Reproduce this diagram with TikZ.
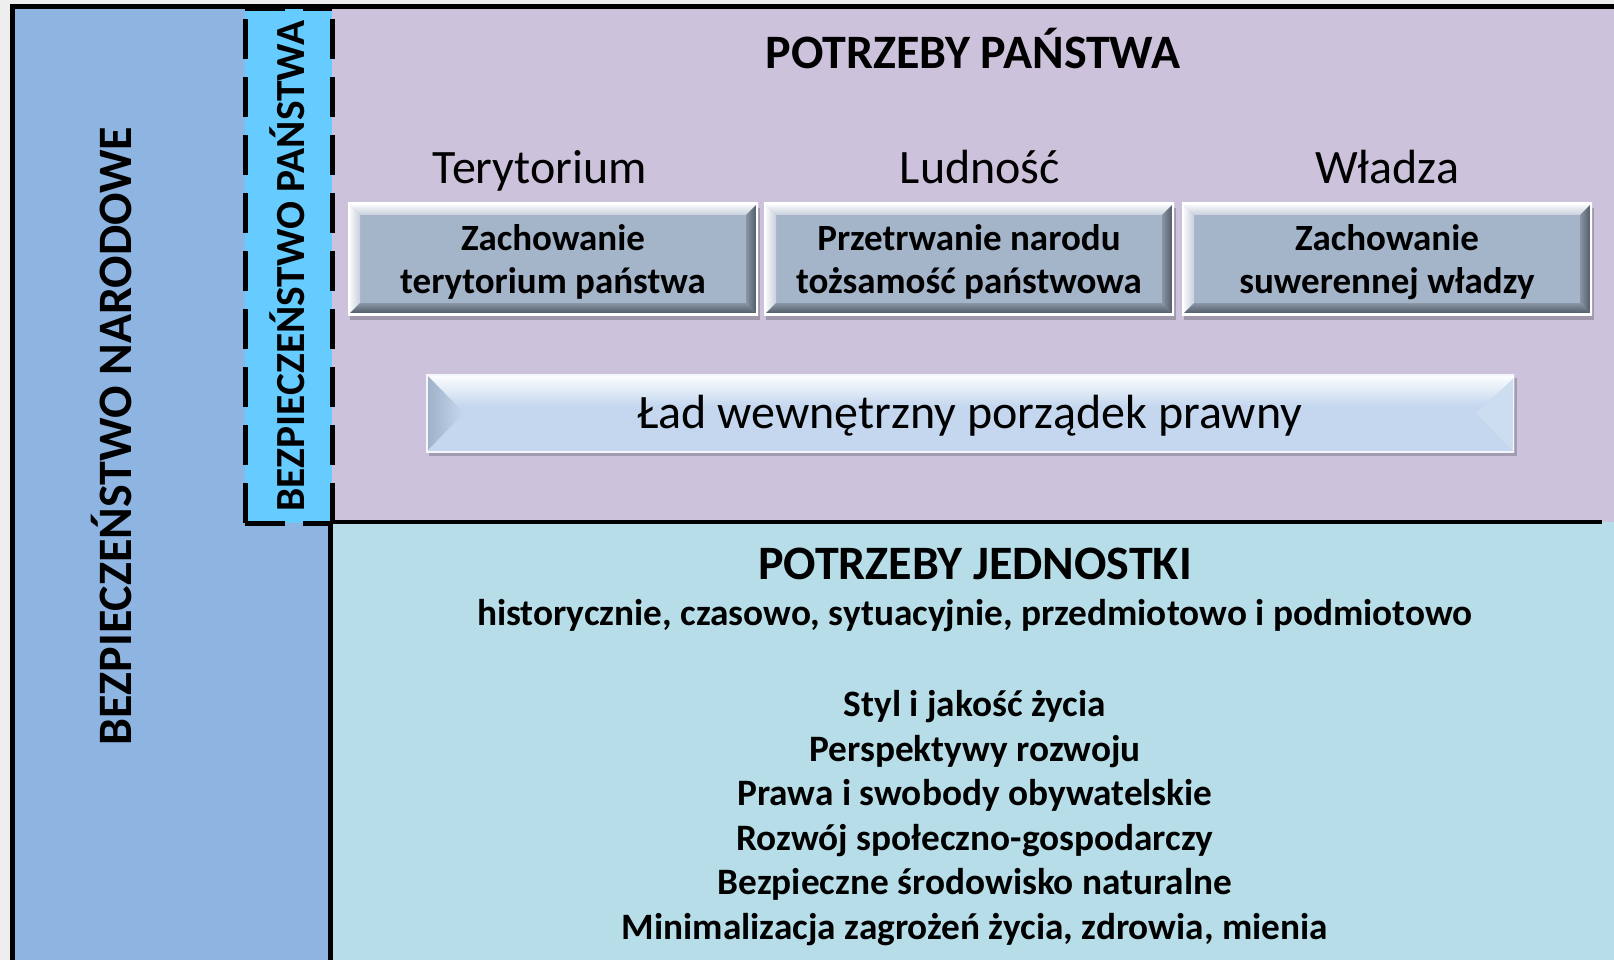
\documentclass[tikz,border=0pt]{standalone}
\usepackage{fontspec}
\setmainfont{Carlito}
\usetikzlibrary{calc,shadows}
\definecolor{bgc}{RGB}{238,238,238}
\definecolor{natblue}{RGB}{142,180,226}
\definecolor{stcyan}{RGB}{102,204,255}
\definecolor{purp}{RGB}{204,194,219}
\definecolor{ltblue}{RGB}{183,222,232}
\definecolor{face}{RGB}{164,180,201}
\definecolor{facelt}{RGB}{200,208,220}
\definecolor{facedk}{RGB}{72,82,94}
\definecolor{facemd}{RGB}{138,150,166}
\definecolor{ladface}{RGB}{196,215,238}
\definecolor{ladedge}{RGB}{158,176,198}
\tikzset{
  gbox/.style={minimum width=410pt, minimum height=112pt, inner sep=0pt, fill=face,
    drop shadow={shadow xshift=2pt, shadow yshift=-5pt, opacity=0.22, fill=black},
    path picture={
      \coordinate (pa) at (path picture bounding box.north west);
      \coordinate (pb) at (path picture bounding box.north east);
      \coordinate (pc) at (path picture bounding box.south east);
      \coordinate (pd) at (path picture bounding box.south west);
      \shade[top color=white, bottom color=facelt]
        (pa) -- (pb) -- ($(pb)+(-12pt,-12pt)$) -- ($(pa)+(12pt,-12pt)$) -- cycle;
      \shade[left color=white, right color=facelt]
        (pa) -- ($(pa)+(12pt,-12pt)$) -- ($(pd)+(12pt,12pt)$) -- (pd) -- cycle;
      \shade[left color=facemd, right color=facedk]
        (pb) -- (pc) -- ($(pc)+(-12pt,12pt)$) -- ($(pb)+(-12pt,-12pt)$) -- cycle;
      \shade[top color=facemd, bottom color=facedk]
        (pd) -- (pc) -- ($(pc)+(-12pt,12pt)$) -- ($(pd)+(12pt,12pt)$) -- cycle;
      \draw[white, line width=4pt] (pa) rectangle (pc);
    }},
  boxtext/.style={inner sep=0pt, align=center, font=\fontsize{37}{43.5}\selectfont\bfseries},
  ladbox/.style={minimum width=1088pt, minimum height=78pt, inner sep=0pt,
    text height=42pt, text depth=12pt,
    font=\fontsize{48}{56}\selectfont, fill=ladface,
    drop shadow={shadow xshift=3pt, shadow yshift=-4pt, opacity=0.2, fill=black},
    path picture={
      \coordinate (pa) at (path picture bounding box.north west);
      \coordinate (pb) at (path picture bounding box.north east);
      \coordinate (pc) at (path picture bounding box.south east);
      \coordinate (pd) at (path picture bounding box.south west);
      \shade[top color=white, bottom color=ladface]
        (pa) rectangle ($(pb)+(0,-32pt)$);
      \shade[left color=ladedge, right color=ladface]
        (pa) -- ($(pa)!0.5!(pd)+(38pt,0)$) -- (pd) -- cycle;
      \fill[ladface!85!white]
        ($(pb)+(0,-4pt)$) -- ($(pb)!0.5!(pc)+(-38pt,0)$) -- (pc) -- cycle;
      \draw[white!80!ladface, line width=3pt] (pa) rectangle (pc);
    }},
  heading/.style={font=\fontsize{48}{56}\selectfont\bfseries, inner sep=0pt},
  colhead/.style={font=\fontsize{48}{56}\selectfont, inner sep=0pt, anchor=base},
  vlabel/.style={rotate=90, inner sep=0pt},
  bodytext/.style={font=\fontsize{37.3}{44.6}\selectfont\bfseries, inner sep=0pt, align=center}
}
\begin{document}
\begin{tikzpicture}[x=1pt,y=-1pt]
\useasboundingbox (0,0) rectangle (1614,960);
\fill[bgc] (0,0) rectangle (1614,960);
% regions
\fill[natblue] (12,7) rectangle (330,960);
\fill[purp] (330,7) rectangle (1614,522);
\fill[ltblue] (330,522) rectangle (1614,960);
\fill[stcyan] (245,7) rectangle (332,523);
% frame lines
\draw[line width=5pt] (12,960) -- (12,7) -- (1614,7);
\draw[line width=5pt] (330,960) -- (330,522);
\draw[line width=4pt] (330,522) -- (1602,522);
\draw[line width=5pt, dash pattern=on 40pt off 18pt] (245,523) -- (245,7);
\draw[line width=5pt, dash pattern=on 40pt off 18pt] (332,523) -- (332,7);
\draw[line width=5pt, dash pattern=on 40pt off 18pt] (245,523) -- (332,523);
\draw[line width=5pt, dash pattern=on 40pt off 18pt] (245,9) -- (332,9);

% vertical labels
\node[vlabel, font=\fontsize{48}{56}\selectfont\bfseries] (narod) at (112,436) {BEZPIECZEŃSTWO NARODOWE};
\node[vlabel, font=\fontsize{41.4}{48}\selectfont\bfseries] (panst) at (287,266) {BEZPIECZEŃSTWO PAŃSTWA};

% top section
\node[heading] (pp) at (973,49) {POTRZEBY PAŃSTWA};
\node[colhead] (ter) at (540,184) {Terytorium};
\node[colhead] (lud) at (980,184) {Ludność};
\node[colhead] (wla) at (1387,184) {Władza};

\node[gbox] (b1) at (553,259) {};
\node[boxtext] (t1) at ([yshift=-3pt]b1.center) {Zachowanie\\terytorium państwa};
\node[gbox] (b2) at (969,259) {};
\node[boxtext] (t2) at ([yshift=-3pt]b2.center) {Przetrwanie narodu\\tożsamość państwowa};
\node[gbox] (b3) at (1387,259) {};
\node[boxtext] (t3) at ([yshift=-3pt]b3.center) {Zachowanie\\suwerennej władzy};

\node[ladbox] (lad) at (970,413) {Ład wewnętrzny porządek prawny};

% bottom section
\node[heading] (pj) at (975,564) {POTRZEBY JEDNOSTKI};
\node[bodytext] (hist) at (975,616)
  {historycznie, czasowo, sytuacyjnie, przedmiotowo i podmiotowo};
\node[bodytext] (list) at (975,818)
  {Styl i jakość życia\\Perspektywy rozwoju\\Prawa i swobody obywatelskie\\Rozwój społeczno-gospodarczy\\Bezpieczne środowisko naturalne\\Minimalizacja zagrożeń życia, zdrowia, mienia};
\end{tikzpicture}
\end{document}
